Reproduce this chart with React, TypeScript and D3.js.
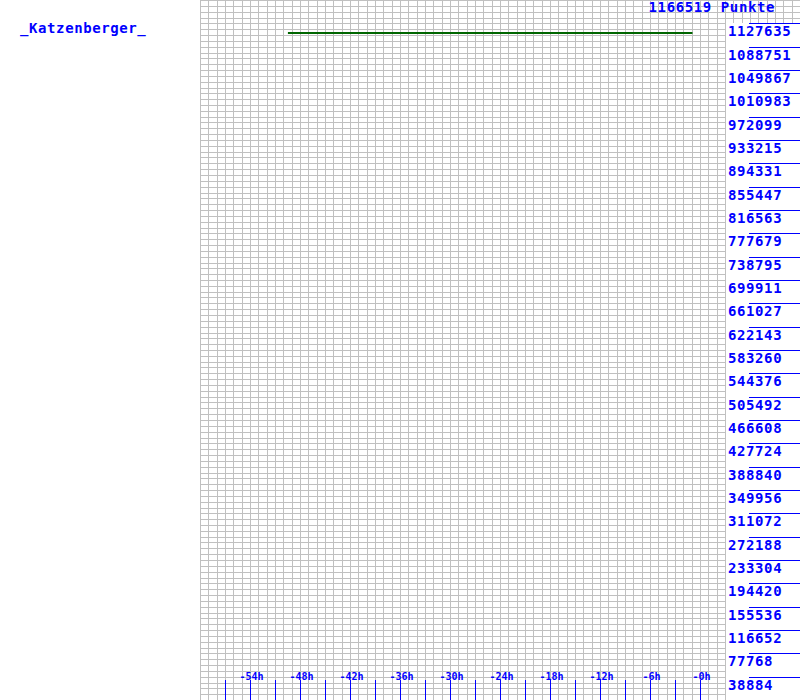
import React from "react";
import * as d3 from "d3";

const seriesName = "_Katzenberger_";
const topValue = 1166519;
const unitLabel = "Punkte";
const yTicks = [
  38884, 77768, 116652, 155536, 194420, 233304, 272188, 311072, 349956, 388840,
  427724, 466608, 505492, 544376, 583260, 622143, 661027, 699911, 738795, 777679,
  816563, 855447, 894331, 933215, 972099, 1010983, 1049867, 1088751, 1127635,
];
const xTickHours = [-57, -54, -51, -48, -45, -42, -39, -36, -33, -30, -27, -24, -21, -18, -15, -12, -9, -6, -3, 0];
const xLabelHours = [-54, -48, -42, -36, -30, -24, -18, -12, -6, 0];
const lineHours = [-49.45, -0.9];
const lineValues = [1111500, 1111500];

const W = 800;
const H = 700;

export default function App() {
  const x = d3.scaleLinear().domain([-60, 12]).range([200, 800]);
  const y = d3.scaleLinear().domain([0, topValue]).range([H, 0]);
  const vGrid = d3.range(-60, 13, 1);
  const hGrid = d3.range(0, 121, 1).map((i) => (topValue * i) / 120);
  const line = d3
    .line<number>()
    .x((_, i) => x(lineHours[i]))
    .y((d) => y(d));
  const font = "'DejaVu Sans Mono', monospace";
  return (
    <svg
      width={W}
      height={H}
      style={{ position: "absolute", left: 0, top: 0, background: "#fff" }}
    >
      <g shapeRendering="crispEdges">
        {vGrid.map((h) => (
          <line key={"v" + h} x1={Math.round(x(h)) + 0.5} x2={Math.round(x(h)) + 0.5} y1={0} y2={H} stroke="#c0c0c0" strokeWidth={1} />
        ))}
        {hGrid.map((v, i) => (
          <line key={"h" + i} x1={200} x2={W} y1={Math.round(y(v)) + 0.5} y2={Math.round(y(v)) + 0.5} stroke="#c0c0c0" strokeWidth={1} />
        ))}
        <rect x={726} y={y(yTicks[yTicks.length - 1])} width={W - 726} height={H} fill="#fff" />
        {yTicks.map((v) => (
          <line key={"yt" + v} x1={749} x2={W} y1={Math.round(y(v)) + 0.5} y2={Math.round(y(v)) + 0.5} stroke="#0000ff" strokeWidth={1} />
        ))}
        {xTickHours.map((h) => (
          <line key={"xt" + h} x1={Math.round(x(h)) + 0.5} x2={Math.round(x(h)) + 0.5} y1={680} y2={H} stroke="#0000ff" strokeWidth={1} />
        ))}
      </g>
      <path d={line(lineValues) || ""} fill="none" stroke="#006600" strokeWidth={2.2} />
      {yTicks.map((v) => (
        <text key={"yl" + v} x={728} y={y(v) + 13} fill="#0000ff" fontFamily={font} fontSize={14} fontWeight="bold" letterSpacing={0.6}>
          {v}
        </text>
      ))}
      {xLabelHours.map((h) => (
        <text key={"xl" + h} x={x(h) + 1.5} y={680} fill="#0000ff" fontFamily={font} fontSize={10} fontWeight="bold" textAnchor="middle">
          {"-" + Math.abs(h) + "h"}
        </text>
      ))}
      <text x={775} y={12} fill="#0000ff" fontFamily={font} fontSize={14} fontWeight="bold" letterSpacing={0.6} textAnchor="end">
        {topValue + " " + unitLabel}
      </text>
      <text x={20} y={33} fill="#0000ff" fontFamily={font} fontSize={14} fontWeight="bold" letterSpacing={0.6}>
        {seriesName}
      </text>
    </svg>
  );
}
